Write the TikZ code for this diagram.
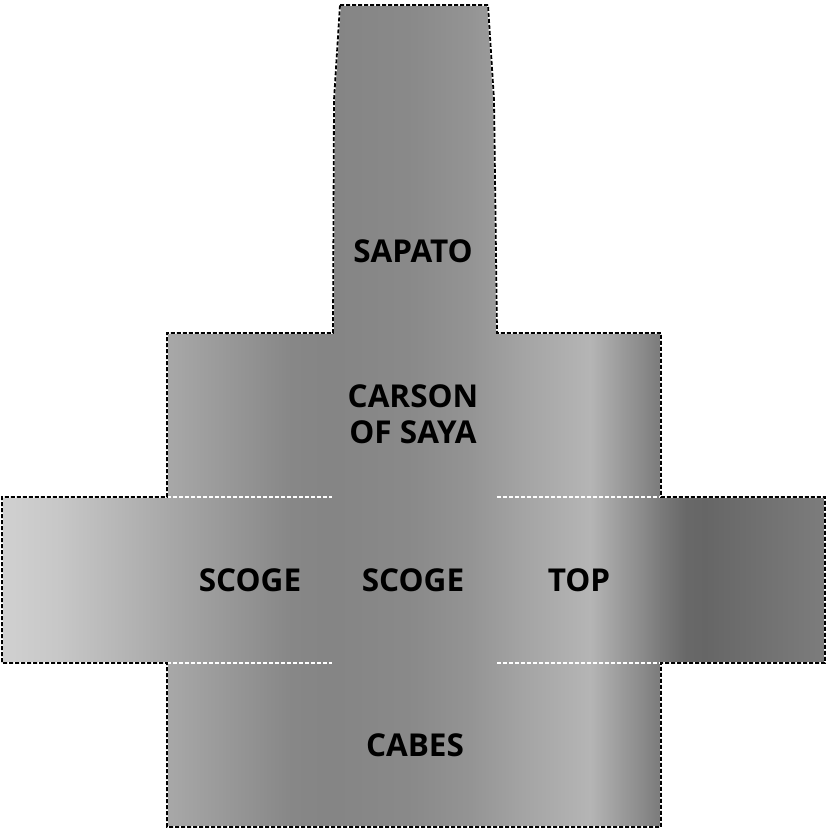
\documentclass[tikz,border=0pt]{standalone}
\usepackage{fontspec}
\setmainfont{Open Sans}
\usepackage{xcolor}
\usepackage{tikz}
\usetikzlibrary{positioning}
\tikzset{
  lbl/.style={
    font=\fontsize{31.5}{36}\selectfont\bfseries,
    text=black, align=center, anchor=base, inner sep=0pt},
  antsbg/.style={draw=white, line width=1.8pt},
  ants/.style={draw=black, line width=1.8pt, dash pattern=on 4pt off 2pt},
  seam/.style={draw=white, line width=1.6pt, dash pattern=on 4pt off 2pt},
}

\begin{document}
\begin{tikzpicture}[x=1pt, y=-1pt]

  \useasboundingbox (0,0) rectangle (827,829);

  % outline of the whole figure
  \path[save path=\crosspath]
    (340,5) -- (488,5) -- (494,100) -- (497,333) -- (661,333) -- (661,497)
    -- (825,497) -- (825,663) -- (661,663) -- (661,827) -- (167,827)
    -- (167,663) -- (2,663) -- (2,497) -- (167,497) -- (167,333)
    -- (333,333) -- (334,100) -- cycle;

  % grey bands, left to right
  \begin{scope}
    \clip[use path=\crosspath];
    \foreach \xa/\ga/\xb/\gb in {0/82/60/78, 60/78/167/66, 167/66/290/53,
        290/53/330/52, 330/52/413/54, 413/54/470/58, 470/58/520/64,
        520/64/560/68, 560/68/590/71, 590/71/620/61, 620/61/640/55,
        640/55/660/48, 660/48/685/41, 685/41/705/40, 705/40/827/49}
      \shade[left color=white!\ga!black, right color=white!\gb!black]
        (\xa,0) rectangle (\xb+0.6,829);
  \end{scope}

  \draw[seam] (167,497) -- (332,497);
  \draw[seam] (497,497) -- (661,497);
  \draw[seam] (167,663) -- (332,663);
  \draw[seam] (497,663) -- (661,663);

  \path[antsbg, use path=\crosspath];
  \path[ants, use path=\crosspath];

  \node[lbl] (sapato) at (413,262) {SAPATO};
  \node[lbl] (carson) at (413,443) {CARSON\\OF SAYA};
  \node[lbl] (scogeL) at (250,591) {SCOGE};
  \node[lbl] (scogeC) at (413,591) {SCOGE};
  \node[lbl] (top)    at (579,591) {TOP};
  \node[lbl] (cabes)  at (415,756) {CABES};

\end{tikzpicture}
\end{document}
